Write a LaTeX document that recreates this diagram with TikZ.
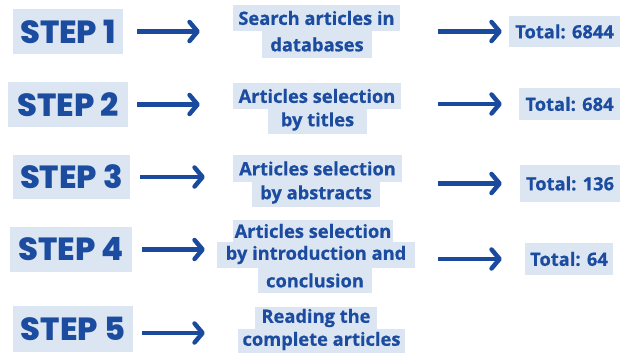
\documentclass[tikz,border=0pt]{standalone}
\usepackage{fontspec}
\setmainfont{Open Sans}[BoldFeatures={FakeBold=0.6}]
\newfontfamily\stepfont{Poppins}[BoldFont={* ExtraBold}]
\usetikzlibrary{arrows.meta}
\definecolor{boxfill}{HTML}{DCE6F3}
\definecolor{ink}{HTML}{1B4C9F}
\definecolor{arrowc}{HTML}{1A4A9E}
\tikzset{
  stepbox/.style={fill=boxfill, text=ink, inner sep=0pt, align=center,
    font=\stepfont\bfseries\fontsize{32}{32}\selectfont},
  ln/.style={fill=boxfill, text=ink, inner sep=0pt,
    font=\bfseries\fontsize{18.3}{19}\selectfont},
  totbox/.style={fill=boxfill, text=ink, inner sep=0pt,
    font=\bfseries\fontsize{18.3}{19}\selectfont},
  arr/.style={draw=arrowc, line width=4.2pt,
    -{Straight Barb[length=8pt,width=19pt,line width=4.5pt,round]}}
}
\begin{document}
\begin{tikzpicture}[x=1pt,y=-1pt]
\useasboundingbox (0,0) rectangle (624,358);
\fill[white] (0,0) rectangle (624,358);
% step boxes
\node[stepbox, minimum width=110pt, minimum height=45pt] (s1) at (68,31.5) {STEP 1};
\node[stepbox, minimum width=120pt, minimum height=45pt] (s2) at (68,104.5) {STEP 2};
\node[stepbox, minimum width=117pt, minimum height=44pt] (s3) at (71.5,177) {STEP 3};
\node[stepbox, minimum width=122pt, minimum height=45pt] (s4) at (71,249.5) {STEP 4};
\node[stepbox, minimum width=120pt, minimum height=46pt] (s5) at (73,329) {STEP 5};
% middle text lines
\node[ln, minimum width=167pt, minimum height=26pt] (m1a) at (316.5,18) {Search articles in};
\node[ln, minimum width=110pt, minimum height=27pt] (m1b) at (317,44.5) {databases};
\node[ln, minimum width=168pt, minimum height=26pt] (m2a) at (317,96) {Articles selection};
\node[ln, minimum width=99pt, minimum height=25pt] (m2b) at (317.5,121.5) {by titles};
\node[ln, minimum width=169pt, minimum height=27pt] (m3a) at (317.5,168.5) {Articles selection};
\node[ln, minimum width=128pt, minimum height=25pt] (m3b) at (316,194.5) {by abstracts};
\node[ln, minimum width=160pt, minimum height=22pt] (m4a) at (313,231) {Articles selection};
\node[ln, minimum width=198pt, minimum height=26pt] (m4b) at (316,255) {by introduction and};
\node[ln, minimum width=114pt, minimum height=25pt] (m4c) at (315,280.5) {conclusion};
\node[ln, minimum width=122pt, minimum height=22pt] (m5a) at (316,318) {Reading the};
\node[ln, minimum width=167pt, minimum height=24pt] (m5b) at (321.5,341) {complete articles};
% totals
\node[totbox, minimum width=111pt, minimum height=31pt] (t1) at (564.5,31.5) {Total: 6844};
\node[totbox, minimum width=101pt, minimum height=32pt] (t2) at (569.5,104) {Total: 684};
\node[totbox, minimum width=100pt, minimum height=37pt] (t3) at (570,183.5) {Total: 136};
\node[totbox, minimum width=88pt, minimum height=32pt] (t4) at (569,259) {Total: 64};
% arrows step -> middle
\draw[arr, shorten <=14pt, shorten >=33pt] (s1.east) -- (s1.east -| m1a.west);
\draw[arr, shorten <=9pt, shorten >=33pt] (s2.east) -- (s2.east -| m2a.west);
\draw[arr, shorten <=10pt, shorten >=28pt] (s3.east) -- (s3.east -| m3a.west);
\draw[arr, shorten <=10pt, shorten >=28pt] (s4.east) -- (s4.east -| m4a.west);
\draw[arr, shorten <=9pt, shorten >=33pt] ([yshift=-4pt]s5.east) -- ([yshift=-4pt]s5.east -| m5b.west);
% arrows middle -> total
\draw[arr, shorten <=38pt, shorten >=7pt] (t1.west -| m1a.east) -- (t1.west);
\draw[arr, shorten <=37pt, shorten >=17pt] (t2.west -| m2a.east) -- (t2.west);
\draw[arr, shorten <=36pt, shorten >=18pt] (t3.west -| m3a.east) -- (t3.west);
\draw[arr, shorten <=23pt, shorten >=23pt] (t4.west -| m4b.east) -- (t4.west);
\end{tikzpicture}
\end{document}
